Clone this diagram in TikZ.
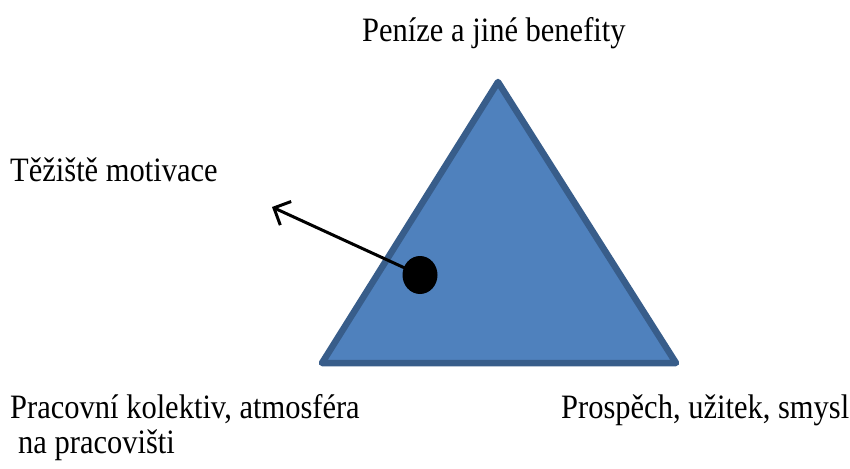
\documentclass[tikz,border=0pt]{standalone}
\usepackage{fontspec}
\setmainfont{Liberation Serif}
\usetikzlibrary{arrows.meta,shapes.geometric}

\definecolor{trifill}{HTML}{4F81BD}
\definecolor{triline}{HTML}{385D8A}

\tikzset{
  label text/.style={anchor=base west,inner sep=0pt,yscale=1.12,
    font=\fontsize{30.5}{34}\selectfont}
}

\begin{document}
\begin{tikzpicture}[x=1pt,y=-1pt]
\useasboundingbox (0,0) rectangle (850,468);
% triangle
\coordinate (apex) at (498,82);
\coordinate (bl) at (322,363);
\coordinate (br) at (676,363);
\filldraw[fill=trifill,draw=triline,line width=6.5pt,line join=round]
  (apex) -- (br) -- (bl) -- cycle;
% centre of gravity
\node[fill=black,ellipse,minimum width=35pt,minimum height=38pt,inner sep=0pt] (dot) at (420,275) {};
\coordinate (tip) at (272,207);
\draw[-{Straight Barb[length=13pt,width=26pt]},line width=3pt] (dot.center) -- (tip);
% labels
\node[label text] (money) at (362,42) {Peníze a jiné benefity};
\node[label text] (focus) at (10,181) {Těžiště motivace};
\node[label text] (team) at (10,418) {Pracovní kolektiv, atmosféra};
\node[label text] (team2) at (18,453) {na pracovišti};
\node[label text] (benefit) at (561,418) {Prospěch, užitek, smysl};
\end{tikzpicture}
\end{document}
